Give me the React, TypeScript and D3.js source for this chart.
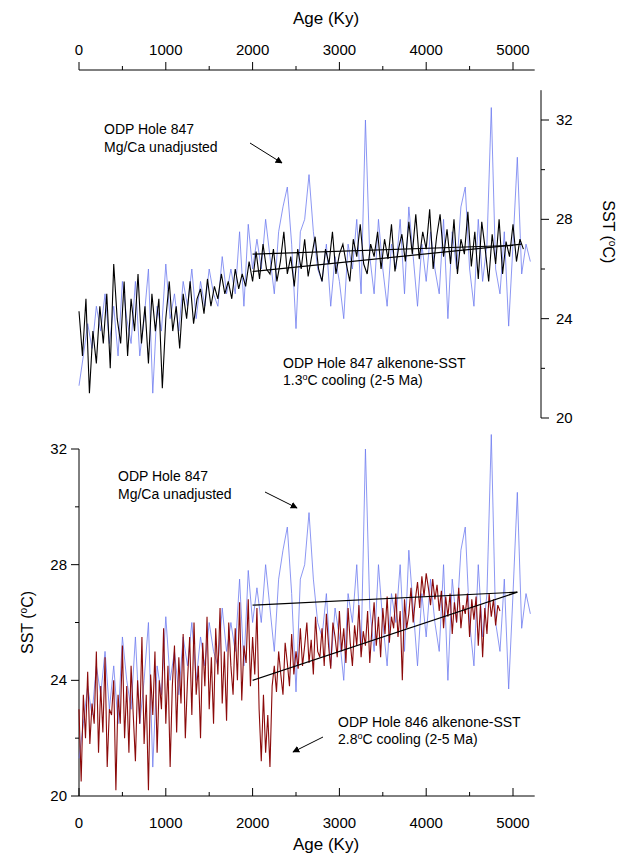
import * as d3 from "d3"

// Age (Ky) grids for each record
const blueStep = 50
const blackStep = 40
const redStep = 25

// ODP Hole 847 Mg/Ca unadjusted SST (every 50 Ky from 0)
const mgcaSST = [
  21.3, 22.5, 23.8, 22.8, 24.5, 23.5, 25, 23, 24.5, 22.5, 25.5, 24, 23, 25.5, 22.5, 24, 26, 21, 24.5, 23.5,
  26.2, 24, 25, 23.5, 25.5, 24.5, 26, 24, 25.5, 24.5, 26, 25, 24.5, 26.5, 25, 26, 25, 27.5, 24.5, 27.8,
  26, 27.2, 26, 28, 26.5, 25, 27.5, 28.5, 29.3, 27, 23.6, 27.5, 28, 29.8, 27.5, 26, 25.5, 27, 24.5, 26.5,
  25.5, 24, 27, 26, 28, 25, 32, 26.5, 25, 28, 26, 24.5, 27, 26, 28, 25, 28.5, 26.5, 24.5, 27,
  25.5, 27.5, 26, 25, 28, 24, 27.5, 26, 28.5, 29.3, 26, 24.5, 28, 25.5, 27, 32.5, 26, 25, 27.5, 23.7,
  27, 30.5, 25.8, 27, 26.3,
]

// ODP Hole 847 alkenone SST (every 40 Ky from 0)
const alk847SST = [
  24.3, 22.5, 24.8, 21, 23.5, 22.2, 24.5, 23, 25, 22, 26.2, 24, 23, 25.5, 22.5, 24.8, 23.5, 25.8, 23, 24.5,
  22.2, 25, 23.5, 24.8, 21.2, 24, 25.5, 23.5, 24.5, 22.8, 25, 24, 25.5, 23.8, 24.8, 25.2, 24.2, 25.6, 24.5, 25.3,
  24.8, 25.8, 25, 25.5, 24.8, 26, 25.2, 25.8, 25.3, 26.3, 25.5, 26.7, 25.6, 27, 26, 25.8, 26.8, 25.5, 26.3, 27.5,
  25.8, 26.5, 25.3, 26.8, 26, 27.2, 25.7, 26.5, 27.3, 26, 25.5, 26.8, 26.2, 27.5, 25.8, 26.6, 27, 26.2, 25.5, 27.2,
  26.5, 27.8, 26.2, 25.8, 27, 26.5, 27.5, 26, 27.2, 26.4, 27.8, 25.9, 26.8, 27.4, 26.3, 27.9, 26.6, 28.2, 26.4, 27.5,
  26.8, 28.4, 26, 27.3, 28.2, 26.5, 27.6, 26.2, 28, 25.8, 27.2, 26.6, 28.3, 26.1, 27.5, 25.6, 27.9, 26.8, 25.5, 27.4,
  26.2, 28, 25.8, 27.1, 26.5, 27.8, 26.3, 27.2, 26.8,
]

// ODP Hole 846 alkenone SST (every 25 Ky from 0)
const alk846SST = [
  23, 20.5, 23.5, 22, 24.3, 21.8, 23.2, 22.5, 25, 21.5, 23.8, 22.2, 24.8, 21, 23, 22.8, 24, 20.2, 23.5, 22.5,
  25.2, 22, 23.8, 21.5, 24.5, 22.8, 21.2, 24, 22.5, 25.5, 21.8, 23.5, 20.2, 24.2, 22.8, 25, 21.5, 24, 23, 25.8,
  22.5, 24.5, 21, 23.8, 25.2, 22.2, 24.8, 23.2, 25.6, 22, 24, 25.5, 22.8, 26, 23.5, 24.5, 22, 25.3, 23.8, 26.2,
  23, 24.8, 22.5, 25.8, 24.2, 26.5, 23.2, 25, 22.6, 26, 24.5, 23.5, 25.8, 24, 26.7, 23.3, 25.2, 24.6, 26.8, 23.8,
  25.5, 24.2, 26.5, 23, 21.2, 23.5, 21.5, 22.8, 21, 23.8, 24.5, 23.6, 25, 24.2, 23.5, 25.3, 24.6, 23.8, 25.6, 24.2,
  25, 24.4, 25.8, 24.5, 25.2, 26, 24.6, 25.4, 24.2, 26.2, 25, 24.8, 25.8, 24.5, 26.3, 25.2, 24.4, 26, 25.5, 24.8,
  26.4, 25, 25.8, 24.6, 26.5, 25.3, 24.5, 25.9, 25.2, 26.6, 24.8, 25.7, 25.2, 26.4, 24.6, 25.8, 26.7, 25.2, 26.2, 24.8,
  26.5, 25.6, 26.9, 25.3, 26.2, 25.8, 27, 25.5, 26.4, 24, 26.8, 25.8, 26.3, 27.2, 26, 26.8, 27.4, 26.5, 27.6, 26.9,
  27.7, 27.2, 26.6, 27.5, 26.8, 27.3, 26.4, 27.1, 25.8, 26.9, 26.2, 27, 25.6, 26.7, 26, 27.2, 25.8, 26.6, 26.3, 27,
  25.5, 26.8, 26.1, 26.9, 25.2, 26.6, 24.8, 26.5, 25.6, 27, 26.2, 26.8, 25.9, 26.6, 26.4,
]

// trend lines [age0, sst0, age1, sst1]
const mgcaTrend = [2000, 26.6, 5000, 26.95]
const topAlkTrend = [2000, 25.9, 5100, 27.0]
const botAlkTrend = [2000, 24.0, 5050, 27.05]
const botMgTrend = [2000, 26.6, 5050, 27.05]

const xTicks = [0, 1000, 2000, 3000, 4000, 5000]
const yTicks = [20, 24, 28, 32]

type P = [number, number]
const toPts = (vals: number[], step: number): P[] => vals.map((v, i) => [i * step, v])

export default function App() {
  const x = d3.scaleLinear().domain([0, 5000]).range([79, 513])
  const yTop = d3.scaleLinear().domain([20, 32]).range([418, 120])
  const yBot = d3.scaleLinear().domain([20, 32]).range([796, 449])
  const font = "Arial, 'Liberation Sans', sans-serif"

  const line = (y: d3.ScaleLinear<number, number>) =>
    d3.line<P>().x((d) => x(d[0])).y((d) => y(d[1]))

  const blue = toPts(mgcaSST, blueStep)
  const black = toPts(alk847SST, blackStep)
  const red = toPts(alk846SST, redStep)

  const trend = (t: number[], y: d3.ScaleLinear<number, number>, k: string) => (
    <line key={k} x1={x(t[0])} y1={y(t[1])} x2={x(t[2])} y2={y(t[3])} stroke="#000" strokeWidth={1.2} />
  )

  const minorX = d3.range(0, 5300, 500)
  const minorY = d3.range(20, 33, 2)

  return (
    <svg width={619} height={854} style={{ position: "absolute", left: 0, top: 0 }} fontFamily={font}>
      <defs>
        <marker id="ah" viewBox="0 0 10 10" refX="9" refY="5" markerWidth="7" markerHeight="7" orient="auto">
          <path d="M0,0 L10,5 L0,10 z" fill="#000" />
        </marker>
      </defs>
      <rect width={619} height={854} fill="#fff" />

      {/* top axis */}
      <text x={(x(0) + x(5000)) / 2 + 30} y={24} fontSize={17} textAnchor="middle">Age (Ky)</text>
      <line x1={x(0)} x2={x(5250)} y1={70} y2={70} stroke="#000" />
      {minorX.map((t) => (
        <line key={"tm" + t} x1={x(t)} x2={x(t)} y1={70} y2={t % 1000 === 0 ? 62 : 66} stroke="#000" />
      ))}
      {xTicks.map((t) => (
        <text key={"tt" + t} x={x(t)} y={55} fontSize={15} textAnchor="middle">{t}</text>
      ))}

      {/* top panel right axis */}
      <line x1={541} x2={541} y1={yTop(33.2)} y2={yTop(20)} stroke="#000" />
      {minorY.map((t) => (
        <line key={"rm" + t} x1={541} x2={t % 4 === 0 ? 549 : 545} y1={yTop(t)} y2={yTop(t)} stroke="#000" />
      ))}
      {yTicks.map((t) => (
        <text key={"rt" + t} x={556} y={yTop(t) + 5} fontSize={15}>{t}</text>
      ))}
      <text transform={`translate(603,${yTop(27.5)}) rotate(90)`} fontSize={16} textAnchor="middle">
        SST (<tspan fontSize={10} dy={-6}>o</tspan><tspan dy={6}>C)</tspan>
      </text>

      {/* top panel data */}
      <path d={line(yTop)(blue) || ""} fill="none" stroke="#6f7cf0" strokeWidth={0.8} />
      <path d={line(yTop)(black) || ""} fill="none" stroke="#000" strokeWidth={1.1} />
      {trend(mgcaTrend, yTop, "a")}
      {trend(topAlkTrend, yTop, "b")}
      <text x={104} y={134} fontSize={14}>ODP Hole 847</text>
      <text x={104} y={152} fontSize={14}>Mg/Ca unadjusted</text>
      <line x1={250} y1={143} x2={282} y2={163} stroke="#000" markerEnd="url(#ah)" />
      <text x={283} y={368} fontSize={14}>ODP Hole 847 alkenone-SST</text>
      <text x={283} y={385} fontSize={14}>1.3<tspan fontSize={9} dy={-5}>o</tspan><tspan dy={5}>C cooling (2-5 Ma)</tspan></text>

      {/* bottom panel axes */}
      <line x1={x(0)} x2={x(0)} y1={yBot(32)} y2={yBot(20)} stroke="#000" />
      {minorY.map((t) => (
        <line key={"lm" + t} x1={x(0)} x2={x(0) - (t % 4 === 0 ? 8 : 4)} y1={yBot(t)} y2={yBot(t)} stroke="#000" />
      ))}
      {yTicks.map((t) => (
        <text key={"lt" + t} x={x(0) - 12} y={yBot(t) + 5} fontSize={15} textAnchor="end">{t}</text>
      ))}
      <text transform={`translate(33,${yBot(26)}) rotate(-90)`} fontSize={16} textAnchor="middle">
        SST (<tspan fontSize={10} dy={-6}>o</tspan><tspan dy={6}>C)</tspan>
      </text>
      <line x1={x(0)} x2={x(5250)} y1={yBot(20)} y2={yBot(20)} stroke="#000" />
      {minorX.map((t) => (
        <line key={"bm" + t} x1={x(t)} x2={x(t)} y1={yBot(20)} y2={yBot(20) - (t % 1000 === 0 ? 8 : 4)} stroke="#000" />
      ))}
      {xTicks.map((t) => (
        <text key={"bt" + t} x={x(t)} y={828} fontSize={15} textAnchor="middle">{t}</text>
      ))}
      <text x={(x(0) + x(5000)) / 2 + 30} y={850} fontSize={17} textAnchor="middle">Age (Ky)</text>

      {/* bottom panel data */}
      <path d={line(yBot)(blue) || ""} fill="none" stroke="#6f7cf0" strokeWidth={0.8} />
      <path d={line(yBot)(red) || ""} fill="none" stroke="#8b0a0a" strokeWidth={1.1} />
      {trend(botMgTrend, yBot, "c")}
      {trend(botAlkTrend, yBot, "d")}
      <text x={118} y={481} fontSize={14}>ODP Hole 847</text>
      <text x={118} y={499} fontSize={14}>Mg/Ca unadjusted</text>
      <line x1={265} y1={492} x2={297} y2={508} stroke="#000" markerEnd="url(#ah)" />
      <text x={338} y={727} fontSize={14}>ODP Hole 846 alkenone-SST</text>
      <text x={338} y={744} fontSize={14}>2.8<tspan fontSize={9} dy={-5}>o</tspan><tspan dy={5}>C cooling (2-5 Ma)</tspan></text>
      <line x1={323} y1={737} x2={293} y2={752} stroke="#000" markerEnd="url(#ah)" />
    </svg>
  )
}
